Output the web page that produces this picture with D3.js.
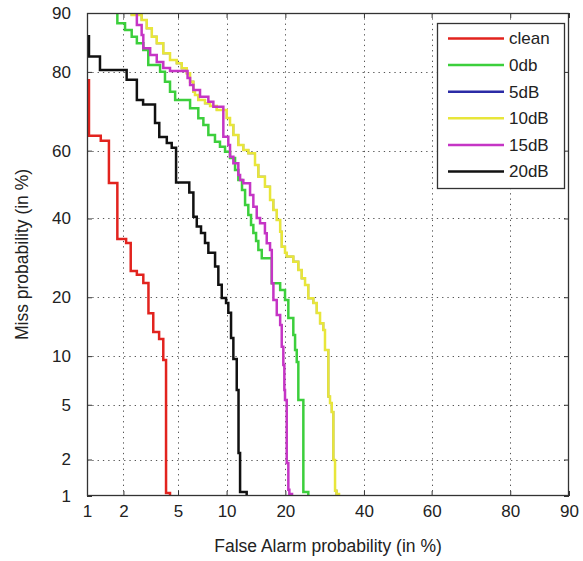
<!DOCTYPE html>
<html>
<head>
<meta charset="utf-8">
<script src="https://cdn.jsdelivr.net/npm/d3@7"></script>
<style>
  html, body { margin: 0; padding: 0; background: #fff; }
  svg { display: block; font-family: "Liberation Sans", Arial, sans-serif; }
</style>
</head>
<body>
<svg id="chart" width="583" height="561"></svg>
<script>
// Tick positions (in %) shared by both probability axes
const tickValues = [1, 2, 5, 10, 20, 40, 60, 80, 90];

// Legend / series order and colours
const seriesNames = ["clean", "0db", "5dB", "10dB", "15dB", "20dB"];
const seriesColors = ["#e2231e", "#3ccf3c", "#2b2ba6", "#e8e63a", "#c535c5", "#111111"];

// DET curves: [false alarm %, miss %] at the corners of each step
const clean = [[1.04,78.5],[1.31,64.2],[1.53,62.8],[1.79,50.5],[2.10,34.2],[2.28,33.1],[2.54,25.9],[2.84,25.0],[3.10,23.1],[3.36,16.8],[3.70,13.55],[3.96,12.45],[4.14,9.5],[4.41,1.06],[4.41,0.5]];

const db0 = [[1.79,91.6],[2.06,88.58],[2.32,87.59],[2.54,86.53],[2.84,85.44],[3.09,84.26],[3.76,81.4],[4.07,80.04],[4.41,77.9],[4.78,75.6],[6.0,73.6],[6.77,71.56],[7.28,68.98],[7.81,67.19],[8.56,64.45],[9.16,62.57],[9.8,61.15],[10.46,59.7],[11.16,57.9],[11.63,54.34],[12.18,51.37],[12.65,48.39],[13.16,43.95],[13.6,41.02],[13.98,38.14],[14.44,35.9],[14.83,33.7],[15.43,31.26],[17.28,29.1],[18.93,23.05],[19.93,21.56],[20.63,19.44],[21.71,15.96],[22.1,13.07],[22.47,10.84],[22.83,9.26],[23.98,5.38],[25.15,1.08],[25.15,0.5]];

const db5 = [[2.32,91.6],[2.76,89.73],[3.01,89.06],[3.28,87.84],[3.56,86.53],[3.96,85.44],[4.41,83.66],[4.90,82.4],[5.29,81.75],[5.71,80.75],[6.0,79.72],[6.30,77.9],[6.45,75.6],[6.77,74.8],[7.45,73.6],[8.0,72.8],[8.77,72.14],[10.02,71.13],[10.46,69.05],[10.92,67.19],[11.63,64.45],[12.38,61.63],[13.16,60.2],[14.26,59.24],[14.83,55.82],[16.0,52.35],[16.95,49.38],[17.58,45.42],[18.25,42.48],[18.93,39.58],[19.25,36.25],[19.93,32.14],[20.29,30.5],[21.71,29.52],[22.83,28.24],[23.6,26.18],[24.38,24.2],[25.15,22.67],[26.37,19.79],[27.2,18.83],[28.03,16.88],[28.86,15.01],[29.29,13.88],[30.16,10.84],[30.6,5.66],[31.05,5.14],[31.48,4.47],[31.93,1.98],[32.33,1.11],[33.0,1.04],[33.0,0.5]];

const db10 = [[2.32,91.6],[2.76,89.73],[3.01,89.06],[3.28,87.84],[3.56,86.53],[3.96,85.44],[4.41,83.66],[4.90,82.4],[5.29,81.75],[5.71,80.75],[6.0,79.72],[6.30,77.9],[6.45,75.6],[6.77,74.8],[7.45,73.6],[8.0,72.8],[8.77,72.14],[10.02,71.13],[10.46,69.05],[10.92,67.19],[11.63,64.45],[12.38,61.63],[13.16,60.2],[14.26,59.24],[14.83,55.82],[16.0,52.35],[16.95,49.38],[17.58,45.42],[18.25,42.48],[18.93,39.58],[19.25,36.25],[19.93,32.14],[20.29,30.5],[21.71,29.52],[22.83,28.24],[23.6,26.18],[24.38,24.2],[25.15,22.67],[26.37,19.79],[27.2,18.83],[28.03,16.88],[28.86,15.01],[29.29,13.88],[30.16,10.84],[30.6,5.66],[31.05,5.14],[31.48,4.47],[31.93,1.98],[32.33,1.11],[33.0,1.04],[33.0,0.5]];

const db15 = [[2.54,91.6],[2.76,88.33],[2.84,86.8],[3.19,84.57],[3.56,83.35],[3.96,82.0],[4.41,80.8],[5.78,80.2],[6.0,78.7],[6.30,77.15],[6.94,76.0],[7.81,74.4],[8.37,73.2],[9.58,71.97],[10.23,63.97],[10.46,61.63],[10.92,58.25],[11.63,56.32],[11.89,52.86],[12.38,51.37],[13.44,50.4],[13.98,46.9],[14.55,43.45],[15.13,40.15],[16.0,38.6],[16.33,35.8],[16.95,33.06],[17.28,31.26],[17.59,23.05],[18.25,19.44],[18.93,16.51],[19.25,14.72],[19.58,11.3],[19.79,8.9],[19.93,6.25],[20.29,5.38],[20.63,1.88],[20.85,1.13],[21.43,1.04],[21.43,0.5]];

const db20 = [[1.04,86.8],[1.29,83.06],[2.12,80.4],[2.54,78.3],[2.83,73.6],[3.46,72.5],[3.71,67.7],[4.19,63.9],[4.53,62.2],[4.85,60.8],[5.93,50.6],[6.30,47.6],[6.62,40.5],[7.04,37.7],[7.45,35.9],[7.81,33.1],[8.57,30.5],[8.96,27.0],[9.38,22.7],[9.93,19.85],[10.23,18.8],[10.6,16.9],[10.92,12.6],[11.4,9.64],[11.66,6.25],[11.89,2.25],[12.9,1.08],[12.9,0.5]];

const seriesData = [clean, db0, db5, db10, db15, db20];
// The 5dB trace runs exactly under the 10dB one; a thinner stroke keeps its edges hidden
const seriesWidths = [2.5, 2.5, 1.8, 2.5, 2.5, 2.5];

// Inverse of the standard normal CDF (Acklam's rational approximation)
function probit(p) {
  const a = [-3.969683028665376e+01, 2.209460984245205e+02, -2.759285104469687e+02, 1.383577518672690e+02, -3.066479806614716e+01, 2.506628277459239e+00];
  const b = [-5.447609879822406e+01, 1.615858368580409e+02, -1.556989798598866e+02, 6.680131188771972e+01, -1.328068155288572e+01];
  const c = [-7.784894002430293e-03, -3.223964580411365e-01, -2.400758277161838e+00, -2.549671010029745e+00, 4.374664141464968e+00, 2.938163982698783e+00];
  const d = [7.784695709041462e-03, 3.224671290700398e-01, 2.445134137142996e+00, 3.754408661907416e+00];
  const pl = 0.02425, ph = 1 - pl;
  let q, r;
  if (p < pl) {
    q = Math.sqrt(-2 * Math.log(p));
    return (((((c[0]*q+c[1])*q+c[2])*q+c[3])*q+c[4])*q+c[5]) / ((((d[0]*q+d[1])*q+d[2])*q+d[3])*q+1);
  }
  if (p <= ph) {
    q = p - 0.5; r = q * q;
    return (((((a[0]*r+a[1])*r+a[2])*r+a[3])*r+a[4])*r+a[5])*q / (((((b[0]*r+b[1])*r+b[2])*r+b[3])*r+b[4])*r+1);
  }
  q = Math.sqrt(-2 * Math.log(1 - p));
  return -(((((c[0]*q+c[1])*q+c[2])*q+c[3])*q+c[4])*q+c[5]) / ((((d[0]*q+d[1])*q+d[2])*q+d[3])*q+1);
}

// Normal-deviate scale over percentages, usable by d3.axis
function probitScale(range) {
  const lin = d3.scaleLinear().domain([probit(0.01), probit(0.90)]).range(range);
  const s = v => lin(probit(v / 100));
  s.range = () => lin.range();
  s.domain = () => [1, 90];
  s.copy = () => probitScale(range);
  return s;
}

const svg = d3.select("#chart");
const L = 87, R = 569, T = 13, B = 496;
const x = probitScale([L, R]);
const y = probitScale([B, T]);

const textColor = "#222";
const fontSize = 17;

// Dotted grid
const grid = svg.append("g").attr("stroke", "#555").attr("stroke-width", 1)
  .attr("stroke-dasharray", "1.3,4");
grid.selectAll("line.gx").data(tickValues.slice(1, -1)).join("line")
  .attr("x1", d => Math.round(x(d)) + 0.5).attr("x2", d => Math.round(x(d)) + 0.5)
  .attr("y1", T).attr("y2", B);
grid.selectAll("line.gy").data(tickValues.slice(1, -1)).join("line")
  .attr("x1", L).attr("x2", R)
  .attr("y1", d => Math.round(y(d)) + 0.5).attr("y2", d => Math.round(y(d)) + 0.5);

// Curves, clipped to the plot box
svg.append("clipPath").attr("id", "plotClip").append("rect")
  .attr("x", L).attr("y", T).attr("width", R - L).attr("height", B - T);

const line = d3.line()
  .x(d => x(d[0]))
  .y(d => y(d[1]))
  .curve(d3.curveStepBefore);

svg.append("g").attr("clip-path", "url(#plotClip)")
  .selectAll("path").data(seriesData).join("path")
  .attr("d", line)
  .attr("fill", "none")
  .attr("stroke", (d, i) => seriesColors[i])
  .attr("stroke-width", (d, i) => seriesWidths[i])
  .attr("stroke-linejoin", "miter");

// Axes with inward ticks on all four sides
function styleAxis(g) {
  g.select(".domain").remove();
  g.selectAll(".tick line").attr("stroke", "#333");
  g.selectAll(".tick text").attr("fill", textColor).attr("font-size", fontSize)
    .attr("font-family", "Liberation Sans, Arial, sans-serif");
}
svg.append("g").attr("transform", `translate(0,${B})`)
  .call(d3.axisBottom(x).tickValues(tickValues).tickSizeInner(-5).tickSizeOuter(0).tickPadding(9))
  .call(styleAxis);
svg.append("g").attr("transform", `translate(${L},0)`)
  .call(d3.axisLeft(y).tickValues(tickValues).tickSizeInner(-5).tickSizeOuter(0).tickPadding(16))
  .call(styleAxis);
svg.append("g").attr("transform", `translate(0,${T})`)
  .call(d3.axisTop(x).tickValues(tickValues).tickSizeInner(-5).tickSizeOuter(0).tickFormat(""))
  .call(styleAxis);
svg.append("g").attr("transform", `translate(${R},0)`)
  .call(d3.axisRight(y).tickValues(tickValues).tickSizeInner(-5).tickSizeOuter(0).tickFormat(""))
  .call(styleAxis);

// Plot frame
svg.append("rect").attr("x", L + 0.5).attr("y", T + 0.5)
  .attr("width", R - L - 1).attr("height", B - T - 1)
  .attr("fill", "none").attr("stroke", "#333").attr("stroke-width", 1.3);

// Axis titles
svg.append("text").attr("x", (L + R) / 2).attr("y", 552)
  .attr("text-anchor", "middle").attr("fill", textColor).attr("font-size", 17.5)
  .text("False Alarm probability (in %)");
svg.append("text").attr("transform", `translate(28,${(T + B) / 2}) rotate(-90)`)
  .attr("text-anchor", "middle").attr("fill", textColor).attr("font-size", 17.5)
  .text("Miss probability (in %)");

// Legend
const lg = svg.append("g");
lg.append("rect").attr("x", 437.5).attr("y", 23.5).attr("width", 127).attr("height", 165)
  .attr("fill", "#fff").attr("stroke", "#333").attr("stroke-width", 1.3);
const items = lg.selectAll("g.item").data(seriesNames).join("g")
  .attr("transform", (d, i) => `translate(0,${38.5 + i * 26.6})`);
items.append("line").attr("x1", 448).attr("x2", 504).attr("y1", 0).attr("y2", 0)
  .attr("stroke", (d, i) => seriesColors[i]).attr("stroke-width", 2.5);
items.append("text").attr("x", 509).attr("y", 0).attr("dy", "0.35em")
  .attr("fill", textColor).attr("font-size", fontSize).text(d => d);
</script>
</body>
</html>
